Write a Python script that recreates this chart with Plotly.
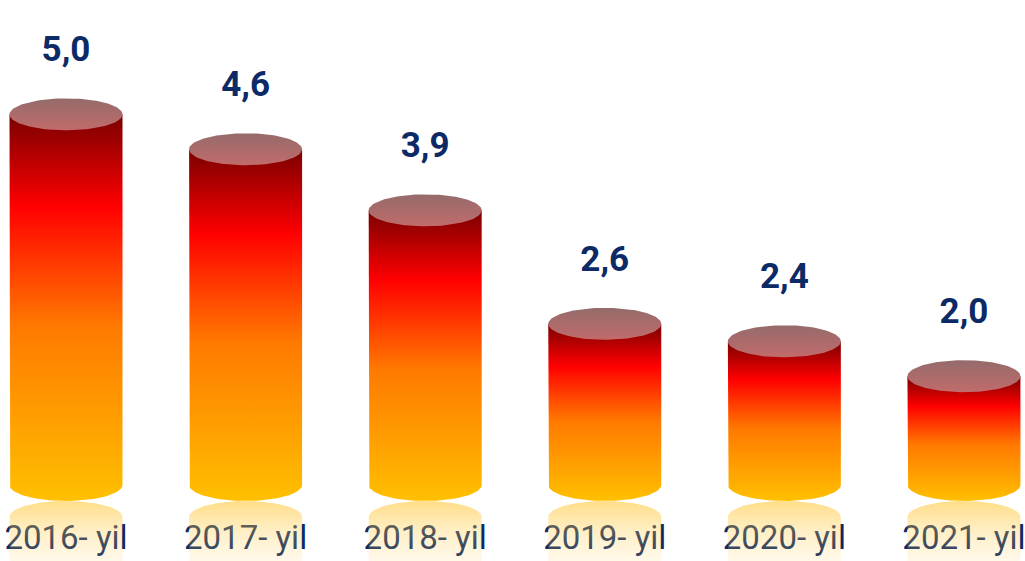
import numpy as np
import plotly.graph_objects as go

# ---- data ----
categories = ["2016- yil", "2017- yil", "2018- yil", "2019- yil", "2020- yil", "2021- yil"]
values = [5.0, 4.6, 3.9, 2.6, 2.4, 2.0]
value_labels = ["5,0", "4,6", "3,9", "2,6", "2,4", "2,0"]

# ---- layout constants ----
W, H = 1025, 561
X_RANGE = [-0.3675, 5.34]
Y_RANGE = [-0.117, 6.31]
BASE = 0.754            # floor value on which the cylinders stand
kx = W / (X_RANGE[1] - X_RANGE[0])   # px per x unit
ky = H / (Y_RANGE[1] - Y_RANGE[0])   # px per y unit
HALF_W = 56.5 / kx                   # half bar width in x units
ELL_H = 16.0 / ky                    # half ellipse height in y units

NAVY = "#0B2A66"
body_scale = [[0.0, "#FFC000"], [0.15, "#FFA800"], [0.45, "#FF7A00"],
              [0.76, "#FF0000"], [1.0, "#7A0000"]]
top_scale = [[0.0, "#C26B6B"], [1.0, "#956B6B"]]
refl_scale = [[0.0, "rgba(255,200,60,0.08)"], [0.5, "rgba(255,200,60,0.28)"],
              [1.0, "rgba(255,195,40,0.55)"]]

fig = go.Figure()
xpos = list(range(len(categories)))
t_low = np.linspace(np.pi, 2 * np.pi, 60)
t_full = np.linspace(0, 2 * np.pi, 120)
t_up = np.linspace(0, np.pi, 60)

# cylinder bodies
for x, v in zip(xpos, values):
    xs = [x - HALF_W, x - HALF_W] + list(x + HALF_W * np.cos(t_low)) + [x + HALF_W, x - HALF_W]
    ys = [v, BASE] + list(BASE + ELL_H * np.sin(t_low)) + [v, v]
    fig.add_trace(go.Scatter(x=xs, y=ys, mode="lines", fill="toself",
                             line=dict(width=0), hoverinfo="skip", showlegend=False,
                             fillgradient=dict(type="vertical", colorscale=body_scale)))

# top ellipses
for x, v in zip(xpos, values):
    fig.add_trace(go.Scatter(x=list(x + HALF_W * np.cos(t_full)),
                             y=list(v + ELL_H * np.sin(t_full)),
                             mode="lines", fill="toself", line=dict(width=0),
                             hoverinfo="skip", showlegend=False,
                             fillgradient=dict(type="vertical", colorscale=top_scale)))

# value labels
fig.add_trace(go.Scatter(x=xpos, y=[v + 62 / ky for v in values], mode="text",
                         text=value_labels, textposition="middle center",
                         textfont=dict(family="Roboto", size=35, color=NAVY, weight="bold"),
                         hoverinfo="skip", showlegend=False, cliponaxis=False))

# category labels
fig.add_trace(go.Scatter(x=xpos, y=[BASE - 56 / ky] * len(xpos), mode="text",
                         text=categories, textposition="middle center",
                         textfont=dict(family="Roboto", size=33, color=NAVY),
                         hoverinfo="skip", showlegend=False, cliponaxis=False))

# reflections (over the labels)
refl_c = BASE - 32 / ky
refl_bottom = Y_RANGE[0] - 4 / ky
for x in xpos:
    xs = list(x + HALF_W * np.cos(t_up)) + [x - HALF_W, x + HALF_W, x + HALF_W]
    ys = list(refl_c + ELL_H * np.sin(t_up)) + [refl_bottom, refl_bottom, refl_c]
    fig.add_trace(go.Scatter(x=xs, y=ys, mode="lines", fill="toself",
                             line=dict(width=0), hoverinfo="skip", showlegend=False,
                             fillgradient=dict(type="vertical", colorscale=refl_scale)))

fig.update_layout(width=W, height=H, margin=dict(l=0, r=0, t=0, b=0),
                  paper_bgcolor="white", plot_bgcolor="white", showlegend=False,
                  xaxis=dict(range=X_RANGE, visible=False, fixedrange=True),
                  yaxis=dict(range=Y_RANGE, visible=False, fixedrange=True))

fig.write_html("out.html", config={"displayModeBar": False},
               post_script="document.body.style.margin='0';")
